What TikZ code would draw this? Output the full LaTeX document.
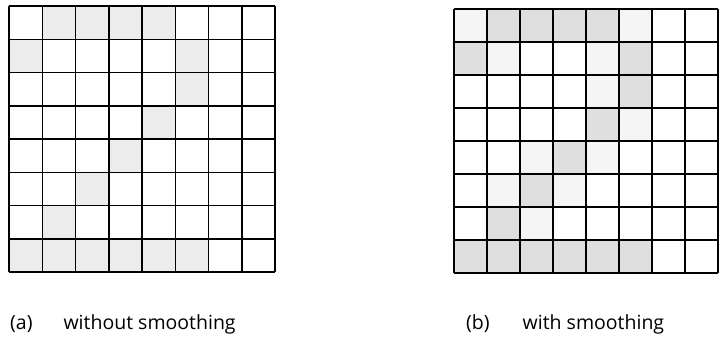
\documentclass[tikz,border=0pt]{standalone}
\usepackage{fontspec}
\setmainfont{Open Sans}
\begin{document}
\begin{tikzpicture}[x=1pt,y=1pt,
  full/.style={fill=gray!15},
  dark/.style={fill=gray!25},
  faint/.style={fill=gray!8},
  gridline/.style={line width=1.5pt,step=1},
  caption/.style={anchor=base west,inner sep=0pt,font=\fontsize{19.5}{22}\selectfont}]
  \useasboundingbox (0,0) rectangle (719,349);
  % (a) without smoothing
  \begin{scope}[shift={(9pt,77pt)},x=33.25pt,y=33.25pt]
    \foreach \c/\r in {1/7,2/7,3/7,4/7,0/6,5/6,5/5,4/4,3/3,2/2,1/1,0/0,1/0,2/0,3/0,4/0,5/0}
      \fill[full] (\c,\r) rectangle ++(1,1);
    \draw[gridline] (0,0) grid (8,8);
  \end{scope}
  % (b) with smoothing
  \begin{scope}[shift={(454pt,76pt)},x=33pt,y=33pt]
    \foreach \c/\r in {0/7,5/7,1/6,4/6,4/5,5/4,2/3,4/3,1/2,3/2,2/1}
      \fill[faint] (\c,\r) rectangle ++(1,1);
    \foreach \c/\r in {1/7,2/7,3/7,4/7,0/6,5/6,5/5,4/4,3/3,2/2,1/1,0/0,1/0,2/0,3/0,4/0,5/0}
      \fill[dark] (\c,\r) rectangle ++(1,1);
    \draw[gridline] (0,0) grid (8,8);
  \end{scope}
  \node[caption] (capa) at (10,20) {(a)\hspace{31pt}without smoothing};
  \node[caption] (capb) at (466,20) {(b)\hspace{33pt}with smoothing};
\end{tikzpicture}
\end{document}
